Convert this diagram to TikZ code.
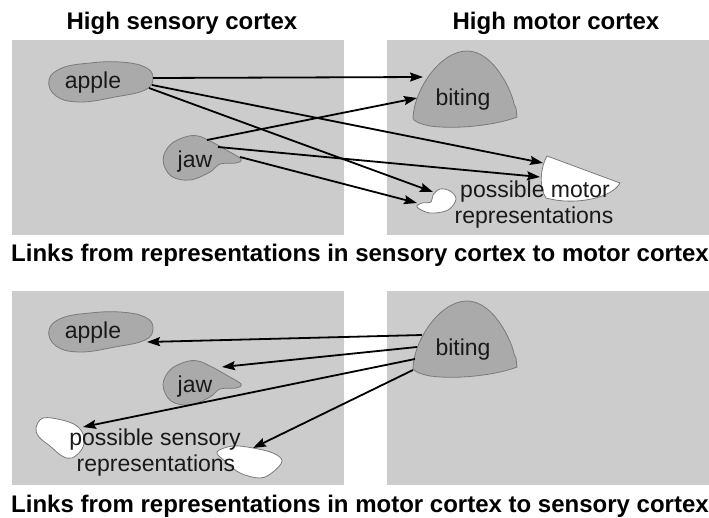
\documentclass[tikz,border=0pt]{standalone}
\usepackage{fontspec}
\setmainfont{Liberation Sans}
\usetikzlibrary{arrows.meta}
\definecolor{panelgray}{HTML}{CCCCCC}
\definecolor{blobgray}{HTML}{AAAAAA}
\definecolor{edgegray}{HTML}{7A7A7A}
\begin{document}
\begin{tikzpicture}[x=1pt,y=-1pt,
  panel/.style={fill=panelgray,draw=none},
  blob/.style={fill=blobgray,draw=edgegray,line width=0.8pt},
  newrep/.style={fill=white,draw=edgegray,line width=0.8pt},
  lbl/.style={inner sep=0pt,anchor=base,text=black!90,font=\fontsize{23}{26}\selectfont},
  ttl/.style={inner sep=0pt,anchor=base,font=\fontsize{24}{28}\selectfont\bfseries},
  link/.style={line width=1.8pt,-{Stealth[length=13pt,width=9pt,inset=2pt]}}]
\useasboundingbox (0,0) rectangle (709,517);

% titles
\node[ttl] (tsens) at (182,29) {High sensory cortex};
\node[ttl] (tmot) at (556,29) {High motor cortex};

% cortex panels
\fill[panel] (12,40) rectangle (344,235);
\fill[panel] (387,40) rectangle (709,235);
\fill[panel] (12,291) rectangle (344,485);
\fill[panel] (387,291) rectangle (709,485);

% ---------- upper panels: sensory -> motor ----------
\draw[blob] plot[smooth cycle,tension=0.7] coordinates
  {(49,80) (62,68) (90,63) (120,62) (145,67) (153,78) (145,90) (115,97) (80,102) (56,96)};
\draw[blob] plot[smooth cycle,tension=0.6] coordinates
  {(163,160) (170,145) (185,137) (198,136) (212,142) (228,151) (241,159) (236,163) (220,164) (210,172) (190,180) (171,176)};
\draw[blob] (413,118) .. controls (414,90) and (440,51) .. (467,51)
  .. controls (495,51) and (513,95) .. (514,104) -- (516,108) -- (517,117)
  .. controls (500,124) and (460,130) .. (430,126) .. controls (420,124) and (413,121) .. (413,118) -- cycle;
\draw[newrep] (547,156) -- (620,183) .. controls (612,198) and (575,206) .. (546,198)
  .. controls (539,188) and (540,168) .. cycle;
\draw[newrep] plot[smooth cycle,tension=0.6] coordinates
  {(417,207) (430,213) (448,210) (456,199) (450,191) (440,189) (433,195) (431,202) (422,203)};

\node[lbl] (appleU) at (93,88) {apple};
\node[lbl] (jawU) at (195,167) {jaw};
\node[lbl] (bitingU) at (463,105) {biting};
\node[lbl] (pmA) at (535,197) {possible motor};
\node[lbl] (pmB) at (534,223) {representations};

\coordinate (a1) at (153,78);  \coordinate (b1) at (423,77);
\coordinate (a2) at (152,85);  \coordinate (m1) at (543,163);
\coordinate (a3) at (149,88);  \coordinate (m2) at (433,192);
\coordinate (j1) at (207,140); \coordinate (b2) at (417,98);
\coordinate (j2) at (218,147); \coordinate (m3) at (540,177);
\coordinate (j3) at (240,157); \coordinate (m4) at (417,203);
\draw[link] (a1) -- (b1);
\draw[link] (a2) -- (m1);
\draw[link] (a3) -- (m2);
\draw[link] (j1) -- (b2);
\draw[link] (j2) -- (m3);
\draw[link] (j3) -- (m4);

\node[ttl] (capU) at (360,261) {Links from representations in sensory cortex to motor cortex};

% ---------- lower panels: motor -> sensory ----------
\begin{scope}[yshift=-250pt]
\draw[blob] plot[smooth cycle,tension=0.7] coordinates
  {(49,80) (62,68) (90,63) (120,62) (145,67) (153,78) (145,90) (115,97) (80,102) (56,96)};
\draw[blob] (413,118) .. controls (414,90) and (440,51) .. (467,51)
  .. controls (495,51) and (513,95) .. (514,104) -- (516,108) -- (517,117)
  .. controls (500,124) and (460,130) .. (430,126) .. controls (420,124) and (413,121) .. (413,118) -- cycle;
\end{scope}
\begin{scope}[yshift=-225pt]
\draw[blob] plot[smooth cycle,tension=0.6] coordinates
  {(163,160) (170,145) (185,137) (198,136) (212,142) (228,151) (241,159) (236,163) (220,164) (210,172) (190,180) (171,176)};
\end{scope}
\draw[newrep] plot[smooth cycle,tension=0.6] coordinates
  {(36,428) (43,418) (62,420) (77,426) (84,437) (82,449) (72,458) (62,456) (50,446) (39,437)};
\draw[newrep] plot[smooth cycle,tension=0.6] coordinates
  {(217,452) (233,446) (253,448) (273,453) (282,461) (273,472) (260,478) (240,473) (226,462)};

\node[lbl] (appleL) at (93,338) {apple};
\node[lbl] (jawL) at (195,392) {jaw};
\node[lbl] (bitingL) at (463,355) {biting};
\node[lbl] (psA) at (155,445) {possible sensory};
\node[lbl] (psB) at (156,471) {representations};

\coordinate (q1) at (422,335); \coordinate (s1) at (147,342);
\coordinate (q2) at (417,347); \coordinate (s2) at (222,367);
\coordinate (q3) at (415,359); \coordinate (s3) at (83,427);
\coordinate (q4) at (413,370); \coordinate (s4) at (253,448);
\draw[link] (q1) -- (s1);
\draw[link] (q2) -- (s2);
\draw[link] (q3) -- (s3);
\draw[link] (q4) -- (s4);

\node[ttl] (capL) at (360,512) {Links from representations in motor cortex to sensory cortex};
\end{tikzpicture}
\end{document}
